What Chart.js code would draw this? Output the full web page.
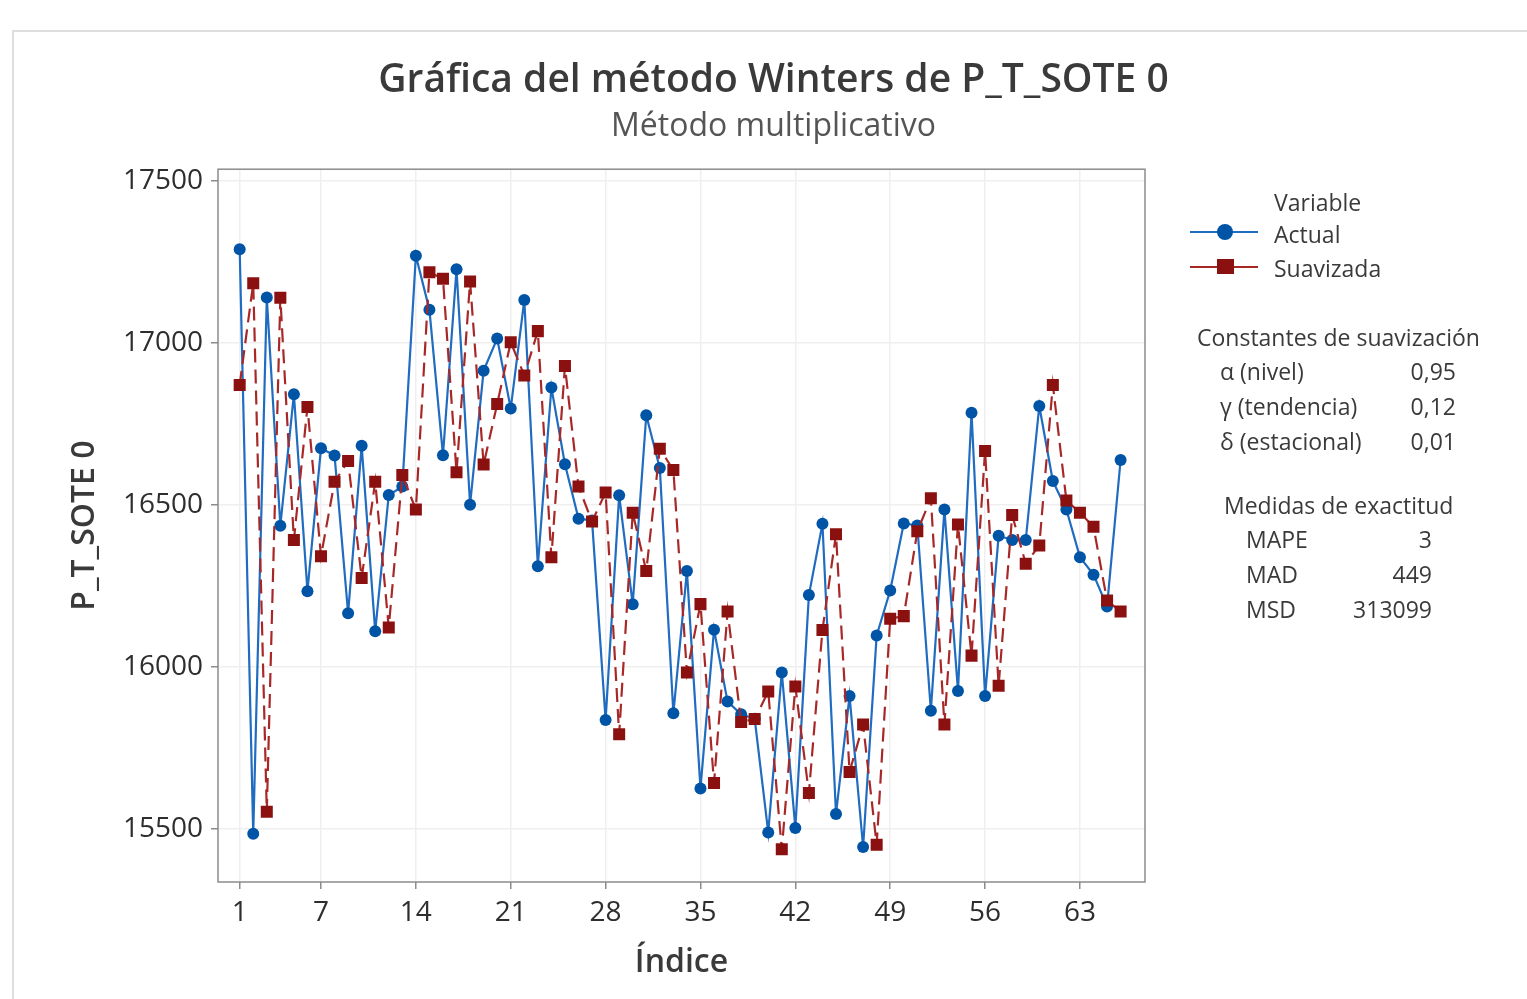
<!DOCTYPE html>
<html lang="es">
<head>
<meta charset="UTF-8">
<title>Gráfica del método Winters de P_T_SOTE 0</title>
<script src="https://cdn.jsdelivr.net/npm/chart.js"></script>
<style>
  body { margin: 0; background: #fff; font-family: 'Open Sans', sans-serif; }
  .page { position: relative; width: 1527px; height: 999px; overflow: hidden; }
  .panel { position: absolute; left: 12px; top: 30px; right: -4px; bottom: -4px; border-top: 2px solid #dedede; border-left: 2px solid #dedede; }
  canvas { position: absolute; left: 0; top: 0; }
  .txt { position: absolute; font-size: 23px; color: #3a3a3a; line-height: 1; transform: translateY(-50%); white-space: nowrap; }
  .key { position: absolute; left: 1190px; width: 68px; height: 2px; }
  .key span { position: absolute; left: 27px; }
</style>
</head>
<body>
<div class="page">
  <div class="panel"></div>
  <canvas id="winters" width="1527" height="999"></canvas>
  <div id="side"></div>
</div>
<script>
// Serie real y serie suavizada (índice 1..66)
const actual = [17290, 15485, 17141, 16436, 16842, 16234, 16675, 16653, 16166, 16683,
                16110, 16531, 16557, 17270, 17103, 16654, 17228, 16501, 16915, 17014,
                16798, 17133, 16311, 16863, 16626, 16458, 16452, 15836, 16530, 16194,
                16777, 16614, 15857, 16296, 15625, 16115, 15893, 15854, 15840, 15489,
                15983, 15503, 16222, 16442, 15546, 15910, 15444, 16097, 16236, 16443,
                16437, 15865, 16486, 15926, 16785, 15910, 16405, 16392, 16392, 16806,
                16574, 16486, 16339, 16285, 16187, 16639];
const smoothed = [16871, 17185, 15553, 17140, 16392, 16803, 16342, 16572, 16636, 16275,
                  16572, 16122, 16593, 16486, 17219, 17199, 16601, 17190, 16625, 16812,
                  17003, 16900, 17037, 16339, 16929, 16557, 16449, 16539, 15792, 16476,
                  16296, 16674, 16608, 15983, 16194, 15642, 16171, 15830, 15839, 15924,
                  15437, 15940, 15611, 16114, 16410, 15676, 15822, 15451, 16149, 16157,
                  16419, 16521, 15822, 16440, 16035, 16667, 15942, 16469, 16319, 16375,
                  16871, 16514, 16476, 16433, 16205, 16171];
const xTicks = [1, 7, 14, 21, 28, 35, 42, 49, 56, 63];
const yTicks = [15500, 16000, 16500, 17000, 17500];

const constNames = ['α (nivel)', 'γ (tendencia)', 'δ (estacional)'];
const constValues = ['0,95', '0,12', '0,01'];
const accNames = ['MAPE', 'MAD', 'MSD'];
const accValues = ['3', '449', '313099'];

const FONT = "'Open Sans', sans-serif";
const TEXT = '#2e2e2e';

const toPoints = arr => arr.map((v, i) => ({ x: i + 1, y: v }));

// marco gris alrededor del área de trazado
const plotFrame = {
  id: 'plotFrame',
  afterDatasetsDraw(chart) {
    const { ctx, chartArea: a } = chart;
    ctx.save();
    ctx.strokeStyle = '#8c8c8c';
    ctx.lineWidth = 1.5;
    ctx.strokeRect(a.left, a.top, a.right - a.left, a.bottom - a.top);
    ctx.restore();
  }
};

new Chart(document.getElementById('winters'), {
  type: 'line',
  data: {
    datasets: [
      {
        label: 'Actual',
        data: toPoints(actual),
        borderColor: '#1f6cc0',
        borderWidth: 2.2,
        pointStyle: 'circle',
        pointRadius: 6,
        pointBackgroundColor: '#0054a6',
        pointBorderColor: '#0054a6',
        pointBorderWidth: 0,
        order: 2
      },
      {
        label: 'Suavizada',
        data: toPoints(smoothed),
        borderColor: '#a82828',
        borderWidth: 2.2,
        borderDash: [14, 7],
        pointStyle: 'rect',
        pointRadius: 8.5,
        pointBackgroundColor: '#8b1111',
        pointBorderColor: '#8b1111',
        pointBorderWidth: 0,
        order: 1
      }
    ]
  },
  options: {
    responsive: false,
    animation: false,
    events: [],
    layout: { padding: { left: 20, right: 0, top: 0, bottom: 17 } },
    plugins: {
      legend: { display: false },
      tooltip: { enabled: false },
      title: {
        display: true,
        text: 'Gráfica del método Winters de P_T_SOTE 0',
        color: '#3a3a3a',
        font: { family: FONT, size: 39, weight: '600' },
        padding: { top: 57, bottom: 2 }
      },
      subtitle: {
        display: true,
        text: 'Método multiplicativo',
        color: '#555',
        font: { family: FONT, size: 32, weight: 'normal' },
        padding: { top: 2, bottom: 23 }
      }
    },
    scales: {
      x: {
        type: 'linear',
        min: -0.6,
        max: 67.8,
        afterBuildTicks: s => { s.ticks = xTicks.map(v => ({ value: v })); },
        afterFit: s => { s.height = 100; },
        grid: { color: '#efefef', lineWidth: 1.5, tickColor: '#8c8c8c', tickLength: 7 },
        border: { display: false },
        ticks: { color: TEXT, font: { family: FONT, size: 28 }, padding: 7, maxRotation: 0, autoSkip: false,
                 callback: v => String(v) },
        title: { display: true, text: 'Índice', color: '#3a3a3a', font: { family: FONT, size: 32, weight: '600' }, padding: 0 }
      },
      y: {
        min: 15336,
        max: 17537,
        afterBuildTicks: s => { s.ticks = yTicks.map(v => ({ value: v })); },
        afterFit: s => { s.width = 198; },
        grid: { color: '#efefef', lineWidth: 1.5, tickColor: '#8c8c8c', tickLength: 7 },
        border: { display: false },
        ticks: { color: TEXT, font: { family: FONT, size: 28 }, padding: 8, callback: v => String(v) },
        title: { display: true, text: 'P_T_SOTE 0', color: '#3a3a3a', font: { family: FONT, size: 32, weight: '600' }, padding: { top: 46, bottom: 0 } }
      },
      // espacio vacío a la derecha para la leyenda
      side: {
        position: 'right',
        afterFit: s => { s.width = 382; },
        grid: { display: false },
        border: { display: false },
        ticks: { display: false }
      }
    }
  },
  plugins: [plotFrame]
});

// leyenda y tabla de constantes (texto HTML)
const side = document.getElementById('side');
function put(text, left, y, right) {
  const d = document.createElement('div');
  d.className = 'txt';
  d.textContent = text;
  d.style.top = y + 'px';
  if (right !== undefined) d.style.right = (1527 - right) + 'px';
  else d.style.left = left + 'px';
  side.appendChild(d);
}
function key(y, color, marker) {
  const k = document.createElement('div');
  k.className = 'key';
  k.style.top = (y - 1) + 'px';
  k.style.background = color;
  const m = document.createElement('span');
  m.style.cssText = marker;
  k.appendChild(m);
  side.appendChild(k);
}

put('Variable', 1274, 202);
key(232, '#1f6cc0', 'top:-7px;width:16px;height:16px;border-radius:50%;background:#0054a6;');
put('Actual', 1274, 234);
key(267, '#a82828', 'top:-7px;width:17px;height:15px;background:#8b1111;');
put('Suavizada', 1274, 268);

put('Constantes de suavización', 1197, 337);
constNames.forEach((n, i) => {
  put(n, 1220, 371 + i * 35);
  put(constValues[i], 0, 371 + i * 35, 1456);
});
put('Medidas de exactitud', 1224, 505);
accNames.forEach((n, i) => {
  put(n, 1246, 539 + i * 35);
  put(accValues[i], 0, 539 + i * 35, 1432);
});
</script>
</body>
</html>
